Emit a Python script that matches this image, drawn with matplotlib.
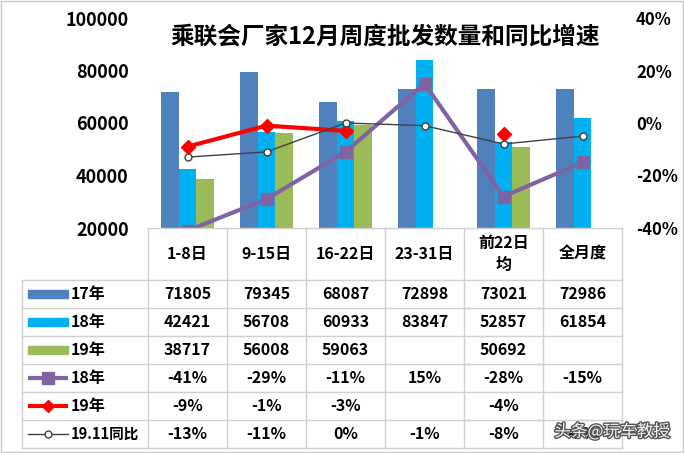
import matplotlib.pyplot as plt
import matplotlib.patheffects as pe
import numpy as np

plt.rcParams["font.family"] = ["Noto Sans CJK SC", "DejaVu Sans"]

categories = ["1-8日", "9-15日", "16-22日", "23-31日", "前22日\n均", "全月度"]
sales_17 = [71805, 79345, 68087, 72898, 73021, 72986]
sales_18 = [42421, 56708, 60933, 83847, 52857, 61854]
sales_19 = [38717, 56008, 59063, np.nan, 50692, np.nan]
yoy_18 = [-0.41, -0.29, -0.11, 0.15, -0.28, -0.15]
yoy_19 = [-0.09, -0.01, -0.03, np.nan, -0.04, np.nan]
yoy_1911 = [-0.13, -0.11, 0.00, -0.01, -0.08, -0.05]
row_names = ["17年", "18年", "19年", "18年", "19年", "19.11同比"]

C17, C18, C19 = "#4F81BD", "#00B0F0", "#9BBB59"
CPUR, CRED, CGRY = "#8064A2", "#FF0000", "#404040"

W, H = 684, 453
fig = plt.figure(figsize=(W / 100, H / 100), dpi=100)

# plot area in pixel coords
px_l, px_r, px_t, px_b = 148, 622, 18, 228
ax = fig.add_axes([px_l / W, 1 - px_b / H, (px_r - px_l) / W, (px_b - px_t) / H])
x = np.arange(len(categories))
bw = 0.22
ax.bar(x - bw, sales_17, bw, color=C17, zorder=2)
ax.bar(x, sales_18, bw, color=C18, zorder=2)
ax.bar(x + bw, sales_19, bw, color=C19, zorder=2)
ax.set_xlim(-0.5, len(categories) - 0.5)
ax.set_ylim(20000, 100000)
ax.set_yticks(range(20000, 100001, 20000))
ax.set_xticks([])
for s in ax.spines.values():
    s.set_visible(False)
ax.tick_params(axis="y", length=0, pad=14, labelsize=13)
for t in ax.get_yticklabels():
    t.set_fontweight("bold")

ax2 = ax.twinx()
ax2.set_ylim(-0.4, 0.4)
ax2.set_yticks([-0.4, -0.2, 0, 0.2, 0.4])
ax2.set_yticklabels(["-40%", "-20%", "0%", "20%", "40%"])
ax2.tick_params(axis="y", length=0, pad=10, labelsize=12)
for t in ax2.get_yticklabels():
    t.set_fontweight("bold")
for s in ax2.spines.values():
    s.set_visible(False)
ax2.plot(x, yoy_18, color=CPUR, lw=3, marker="s", ms=8, zorder=3)
ax2.plot(x, yoy_19, color=CRED, lw=3, marker="D", ms=7, zorder=4)
ax2.plot(x, yoy_1911, color=CGRY, lw=1, marker="o", ms=5,
         mfc="white", mec=CGRY, mew=1, zorder=5)

ax.set_title("乘联会厂家12月周度批发数量和同比增速", fontsize=17,
             fontweight="bold", y=0.84)

# data table drawn on a full-figure overlay in pixel coordinates
tab = fig.add_axes([0, 0, 1, 1])
tab.set_xlim(0, W)
tab.set_ylim(H, 0)
tab.axis("off")
tab.patch.set_alpha(0)

col_w = (px_r - px_l) / len(categories)
lab_l = 22
head_b = 280
row_h = 28
n_rows = len(row_names)
tab_b = head_b + row_h * n_rows
gc = "#D0D0D0"

# horizontal lines
tab.plot([px_l, px_r], [px_b, px_b], color=gc, lw=1)
for i in range(n_rows + 1):
    yy = head_b + i * row_h
    tab.plot([lab_l, px_r], [yy, yy], color=gc, lw=1)
# vertical lines
tab.plot([lab_l, lab_l], [head_b, tab_b], color=gc, lw=1)
for j in range(len(categories) + 1):
    xx = px_l + j * col_w
    tab.plot([xx, xx], [px_b, tab_b], color=gc, lw=1)

fs = 11.5
for j, c in enumerate(categories):
    tab.text(px_l + (j + 0.5) * col_w, (px_b + head_b) / 2, c, ha="center",
             va="center", fontsize=fs, fontweight="bold", linespacing=1.5)


def fmt_num(v):
    return "" if np.isnan(v) else f"{int(v)}"


def fmt_pct(v):
    return "" if np.isnan(v) else f"{round(v * 100):d}%"


rows = [
    [fmt_num(v) for v in sales_17],
    [fmt_num(v) for v in sales_18],
    [fmt_num(v) for v in sales_19],
    [fmt_pct(v) for v in yoy_18],
    [fmt_pct(v) for v in yoy_19],
    [fmt_pct(v) for v in yoy_1911],
]
for i, vals in enumerate(rows):
    yc = head_b + (i + 0.5) * row_h
    for j, v in enumerate(vals):
        tab.text(px_l + (j + 0.5) * col_w, yc, v, ha="center", va="center",
                 fontsize=fs, fontweight="bold")
    tab.text(71, yc, row_names[i], ha="left", va="center",
             fontsize=fs if i < 5 else 10.5, fontweight="bold")

# legend keys in the row-label column
sw_l, sw_r = 28, 68
for i, col in enumerate([C17, C18, C19]):
    yc = head_b + (i + 0.5) * row_h
    tab.add_patch(plt.Rectangle((sw_l, yc - 4), sw_r - sw_l, 8, color=col))
yc = head_b + 3.5 * row_h
tab.plot([sw_l, sw_r], [yc, yc], color=CPUR, lw=3, solid_capstyle="butt")
tab.plot([(sw_l + sw_r) / 2], [yc], "s", color=CPUR, ms=8)
yc = head_b + 4.5 * row_h
tab.plot([sw_l, sw_r], [yc, yc], color=CRED, lw=3, solid_capstyle="butt")
tab.plot([(sw_l + sw_r) / 2], [yc], "D", color=CRED, ms=6)
yc = head_b + 5.5 * row_h
tab.plot([sw_l, sw_r], [yc, yc], color=CGRY, lw=1)
tab.plot([(sw_l + sw_r) / 2], [yc], "o", mfc="white", mec=CGRY, ms=5)

# outer frame and watermark
tab.add_patch(plt.Rectangle((1, 1), W - 2, H - 2, fill=False, ec="#C8C8C8", lw=1))
tab.text(612, 432, "头条@玩车教授", ha="center", va="center", fontsize=12,
         color="#F5F5F5", zorder=10,
         path_effects=[pe.withStroke(linewidth=2, foreground="#555555")])

fig.savefig("out.png", dpi=100)
